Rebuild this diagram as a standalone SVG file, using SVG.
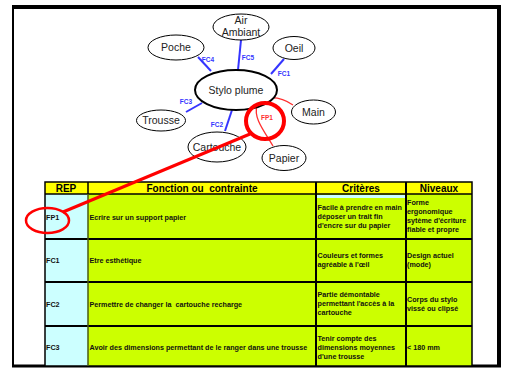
<svg xmlns="http://www.w3.org/2000/svg" width="507" height="369" viewBox="0 0 507 369">
<style>
.el{fill:#fff;stroke:#000;stroke-width:1}
.nt{font-family:"Liberation Sans",Arial,sans-serif;font-size:10.5px;fill:#222;text-anchor:middle}
.blue{stroke:#3535ff;stroke-width:2;fill:none}
.lbl{font-family:"Liberation Sans",Arial,sans-serif;font-size:6.5px;font-weight:bold;fill:#3535ff;text-anchor:middle}
.hd{font-family:"Liberation Sans",Arial,sans-serif;font-size:10px;font-weight:bold;fill:#000;text-anchor:middle;white-space:pre}
.tx{font-family:"Liberation Sans",Arial,sans-serif;font-size:7.2px;font-weight:bold;fill:#111;white-space:pre}
.yel{fill:#ffff00}
.cy{fill:#ccffff}
.lm{fill:#ccff00}
</style>
<rect width="507" height="369" fill="#fff"/>
<!-- frame -->
<g id="frame" fill="none" stroke="#000">
<line x1="13" y1="7" x2="13" y2="367" stroke-width="2"/>
<line x1="12" y1="7" x2="501" y2="7" stroke-width="4"/>
<line x1="499" y1="5" x2="499" y2="367" stroke-width="4"/>
<line x1="12" y1="366" x2="501" y2="366" stroke-width="3"/>
</g>
<!-- table -->
<g id="table">
<rect x="45" y="182" width="427" height="12" class="yel"/>
<rect x="45" y="194" width="43" height="172" class="cy"/>
<rect x="88" y="194" width="384" height="172" class="lm"/>
<rect x="316" y="195" width="90" height="3" class="cy"/>
<g stroke="#000" fill="none">
<rect x="45" y="182" width="427" height="184" stroke-width="1.5"/>
<line x1="45" y1="194" x2="472" y2="194" stroke-width="1.5"/>
<line x1="45" y1="239" x2="472" y2="239" stroke-width="2"/>
<line x1="45" y1="282" x2="472" y2="282" stroke-width="2"/>
<line x1="45" y1="326" x2="472" y2="326" stroke-width="2"/>
<line x1="88" y1="182" x2="88" y2="194" stroke-width="1.5"/>
<line x1="88" y1="194" x2="88" y2="366" stroke-width="1.5" stroke="#4a5a10"/>
<line x1="316" y1="182" x2="316" y2="366" stroke-width="2"/>
<line x1="406" y1="182" x2="406" y2="366" stroke-width="2"/>
</g>
<text class="hd" x="66" y="191.5">REP</text>
<text class="hd" x="202" y="191.5">Fonction ou  contrainte</text>
<text class="hd" x="361" y="191.5">Critères</text>
<text class="hd" x="439" y="191.5">Niveaux</text>
<text class="tx" x="46" y="219.5">FP1</text>
<text class="tx" x="89.5" y="219.5">Ecrire sur un support papier</text>
<text class="tx" x="317.5" y="209.5">Facile à prendre en main</text>
<text class="tx" x="317.5" y="218.5">déposer un trait fin</text>
<text class="tx" x="317.5" y="227.5">d'encre sur du papier</text>
<text class="tx" x="407" y="204.5">Forme</text>
<text class="tx" x="407" y="213.5">ergonomique</text>
<text class="tx" x="407" y="222.5">sytème d'écriture</text>
<text class="tx" x="407" y="231.5">fiable et propre</text>
<text class="tx" x="46" y="262.5">FC1</text>
<text class="tx" x="89.5" y="262.5">Etre esthétique</text>
<text class="tx" x="317.5" y="257.5">Couleurs et formes</text>
<text class="tx" x="317.5" y="266.5">agréable à l'œil</text>
<text class="tx" x="407" y="257.5">Design actuel</text>
<text class="tx" x="407" y="266.5">(mode)</text>
<text class="tx" x="46" y="306.5">FC2</text>
<text class="tx" x="89.5" y="306.5">Permettre de changer la  cartouche recharge</text>
<text class="tx" x="317.5" y="296.5">Partie démontable</text>
<text class="tx" x="317.5" y="305.5">permettant l'accès à la</text>
<text class="tx" x="317.5" y="314.5">cartouche</text>
<text class="tx" x="407" y="301.5">Corps du stylo</text>
<text class="tx" x="407" y="310.5">vissé ou clipsé</text>
<text class="tx" x="46" y="349.5">FC3</text>
<text class="tx" x="89.5" y="349.5">Avoir des dimensions permettant de le ranger dans une trousse</text>
<text class="tx" x="317.5" y="340.5">Tenir compte des</text>
<text class="tx" x="317.5" y="349.5">dimensions moyennes</text>
<text class="tx" x="317.5" y="358.5">d'une trousse</text>
<text class="tx" x="407" y="349.5">&lt; 180 mm</text>
</g>
<!-- connectors -->
<g id="connectors">
<line class="blue" x1="198" y1="57" x2="211" y2="71"/>
<line class="blue" x1="241" y1="40" x2="238" y2="70"/>
<line class="blue" x1="284" y1="59" x2="271" y2="74"/>
<line class="blue" x1="186" y1="112" x2="202" y2="103"/>
<line class="blue" x1="225" y1="131" x2="232" y2="110"/>
<text class="lbl" x="208" y="62">FC4</text>
<text class="lbl" x="248" y="60">FC5</text>
<text class="lbl" x="284" y="76">FC1</text>
<text class="lbl" x="186" y="104">FC3</text>
<text class="lbl" x="217" y="127">FC2</text>
<path d="M293,105 C280,96 262,94 257,106 C253,118 265,132 273,146" fill="none" stroke="#ff3030" stroke-width="1.3"/>
<text x="267" y="120" font-family="'Liberation Sans',Arial,sans-serif" font-size="6.5" font-weight="bold" fill="#ff3030" text-anchor="middle">FP1</text>
</g>
<!-- nodes -->
<g id="n-air"><ellipse class="el" cx="241" cy="27" rx="28" ry="13"/><text class="nt" x="241" y="24">Air</text><text class="nt" x="241" y="36">Ambiant</text></g>
<g id="n-poche"><ellipse class="el" cx="176" cy="47.5" rx="28" ry="12.5"/><text class="nt" x="176" y="51">Poche</text></g>
<g id="n-oeil"><ellipse class="el" cx="294" cy="48" rx="21" ry="11.5"/><text class="nt" x="294" y="51.5">Oeil</text></g>
<g id="n-stylo"><ellipse cx="236" cy="90" rx="41" ry="20" fill="#fff" stroke="#000" stroke-width="2"/><text class="nt" x="236" y="93.5" font-size="11">Stylo plume</text></g>
<g id="n-trousse"><ellipse class="el" cx="161" cy="120.5" rx="24.5" ry="10.5"/><text class="nt" x="161" y="124">Trousse</text></g>
<g id="n-main"><ellipse class="el" cx="313.5" cy="112" rx="22" ry="12"/><text class="nt" x="313.5" y="115.5">Main</text></g>
<g id="n-cartouche"><ellipse class="el" cx="217" cy="147" rx="29" ry="15"/><text class="nt" x="217" y="150.5">Cartouche</text></g>
<g id="n-papier"><ellipse class="el" cx="284" cy="158" rx="22" ry="12.5"/><text class="nt" x="284" y="161.5">Papier</text></g>
<!-- red highlight -->
<g id="highlight" fill="none" stroke="#ff0000">
<ellipse cx="265" cy="121" rx="19" ry="18" stroke-width="4"/>
<line x1="250" y1="134" x2="63" y2="212" stroke-width="3"/>
<ellipse cx="47.5" cy="220.5" rx="21.5" ry="12.5" stroke-width="2.5"/>
</g>
</svg>
